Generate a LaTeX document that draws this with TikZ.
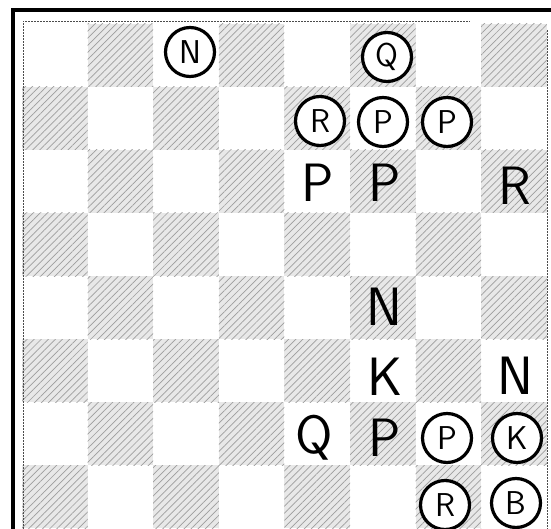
\documentclass[tikz,border=0pt]{standalone}
\usetikzlibrary{patterns.meta}
\tikzset{
  darksq/.style={pattern={Lines[angle=45,distance=5pt,line width=0.7pt]}, pattern color=black!38},
  darkfill/.style={fill=black!9},
  piece/.style={inner sep=0pt, font=\sffamily\fontsize{54}{54}\selectfont},
  ring/.style={circle, draw, line width=3.2pt, minimum size=49pt, inner sep=0pt, fill=white, font=\sffamily\fontsize{33}{33}\selectfont},
  frame/.style={line width=3.5pt},
  thinframe/.style={line width=0.9pt, black!70, dash pattern=on 2pt off 1pt},
}
\begin{document}
\begin{tikzpicture}[x=1pt,y=-1pt]
\useasboundingbox (0,0) rectangle (551,529);
% dark squares
\foreach \c in {1,...,8}{
  \foreach \r in {1,...,8}{
    \pgfmathtruncatemacro{\s}{mod(\c+\r,2)}
    \ifnum\s=1
      \fill[darkfill] ({22+65.6*(\c-1)},{24+63*(\r-1)}) rectangle ++(65.6,63);
      \fill[darksq] ({22+65.6*(\c-1)},{24+63*(\r-1)}) rectangle ++(65.6,63);
    \fi
  }
}
% frame
\draw[frame] (13,529) -- (13,10) -- (551,10);
\draw[thinframe] (23,529) -- (23,21) -- (470,21);
\draw[thinframe] (547,30) -- (547,529);
% uncircled pieces
\node[piece] (p53) at (318,183) {P};
\node[piece] (p63) at (385,183) {P};
\node[piece] (r83) at (515,186) {R};
\node[piece] (n65) at (384,307) {N};
\node[piece] (k66) at (385,377) {K};
\node[piece] (n86) at (515,376) {N};
\node[piece] (q57) at (314,438) {Q};
\node[piece] (p67) at (385,438) {P};
% circled pieces
\node[ring] (n31) at (190,52) {N};
\node[ring] (q61) at (387,57) {Q};
\node[ring] (r52) at (320,121) {R};
\node[ring] (p62) at (383,122) {P};
\node[ring] (p72) at (447,122) {P};
\node[ring] (p77) at (447,438) {P};
\node[ring] (k87) at (517,438) {K};
\node[ring] (r78) at (445,505) {R};
\node[ring] (b88) at (516,503) {B};
\end{tikzpicture}
\end{document}
